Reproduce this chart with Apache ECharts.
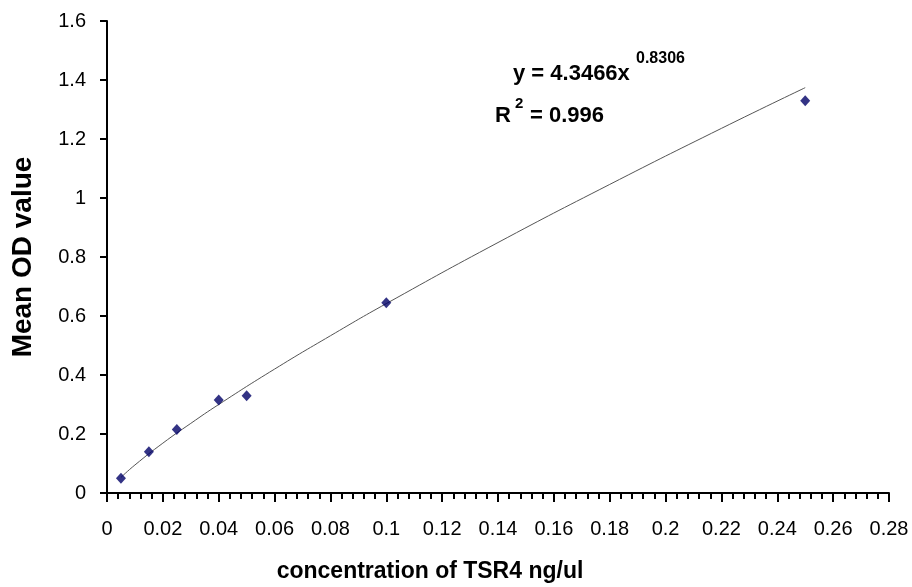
<!DOCTYPE html>
<html>
<head>
<meta charset="utf-8">
<script src="https://cdn.jsdelivr.net/npm/echarts@6/dist/echarts.min.js"></script>
<style>
  html, body { margin: 0; padding: 0; background: #fff; }
  #chart { width: 912px; height: 587px; }
</style>
</head>
<body>
<div id="chart"></div>
<script>
// measured points (concentration, mean OD)
var concentration = [0.005, 0.015, 0.025, 0.04, 0.05, 0.1, 0.25];
var meanOD = [0.05, 0.14, 0.215, 0.315, 0.33, 0.645, 1.33];
// power trend line
var trendX = [0.005, 0.01, 0.02, 0.03, 0.04, 0.06, 0.08, 0.1, 0.14, 0.18, 0.22, 0.25];
var trendY = [0.053, 0.095, 0.169, 0.236, 0.300, 0.420, 0.533, 0.642, 0.849, 1.046, 1.236, 1.374];

var chart = echarts.init(document.getElementById('chart'));

var font = 'Liberation Sans, Arial, sans-serif';

function txt(x, y, s, size) {
  return {
    type: 'text',
    x: x,
    y: y,
    style: {
      text: s,
      fontSize: size,
      fontWeight: 'bold',
      fontFamily: font,
      fill: '#000',
      verticalAlign: 'middle'
    }
  };
}

var option = {
  backgroundColor: '#ffffff',
  animation: false,
  grid: { left: 107, right: 23, top: 21, bottom: 94, containLabel: false, outerBoundsMode: 'none' },
  xAxis: {
    type: 'value',
    min: 0,
    max: 0.28,
    interval: 0.02,
    axisLine: { lineStyle: { color: '#000', width: 2 } },
    axisTick: { show: true, length: 9, lineStyle: { color: '#000', width: 2 } },
    minorTick: { show: true, splitNumber: 5, length: 6, lineStyle: { color: '#000', width: 2 } },
    splitLine: { show: false },
    axisLabel: {
      color: '#000', fontSize: 20, fontFamily: font, margin: 26,
      formatter: function (v) { return +v.toFixed(2) + ''; }
    },
    name: 'concentration of TSR4 ng/ul',
    nameLocation: 'middle',
    nameGap: 67,
    nameTextStyle: { color: '#000', fontSize: 23, fontWeight: 'bold', fontFamily: font, padding: [0, 136, 0, 0] }
  },
  yAxis: {
    type: 'value',
    min: 0,
    max: 1.6,
    interval: 0.2,
    axisLine: { show: true, lineStyle: { color: '#000', width: 2 } },
    axisTick: { show: true, length: 7, lineStyle: { color: '#000', width: 2 } },
    splitLine: { show: false },
    axisLabel: {
      color: '#000', fontSize: 20, fontFamily: font, margin: 21,
      formatter: function (v) { return +v.toFixed(1) + ''; }
    },
    name: 'Mean OD value',
    nameLocation: 'middle',
    nameGap: 70,
    nameTextStyle: { color: '#000', fontSize: 28, fontWeight: 'bold', fontFamily: font }
  },
  series: [
    {
      type: 'line',
      data: trendX.map(function (x, i) { return [x, trendY[i]]; }),
      smooth: true,
      symbol: 'none',
      lineStyle: { color: '#555', width: 1 },
      z: 2
    },
    {
      type: 'scatter',
      data: concentration.map(function (x, i) { return [x, meanOD[i]]; }),
      symbol: 'diamond',
      symbolSize: [10, 11],
      itemStyle: { color: '#000066' },
      z: 3
    }
  ],
  graphic: [
    txt(513, 74, 'y = 4.3466x', 22),
    txt(636, 59, '0.8306', 16),
    txt(495, 116, 'R', 22),
    txt(515, 104, '2', 15),
    txt(530, 116, '= 0.996', 22)
  ]
};

chart.setOption(option);
</script>
</body>
</html>
